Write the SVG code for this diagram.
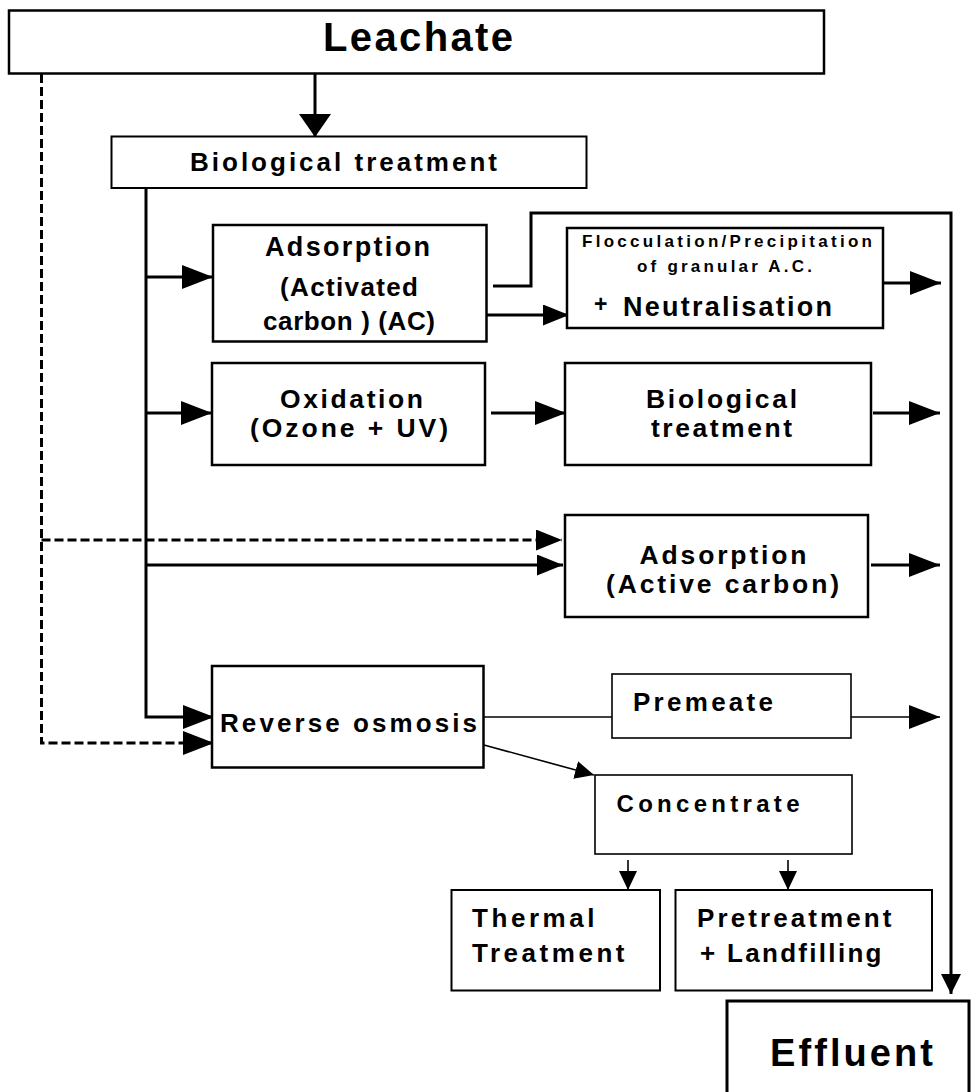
<svg xmlns="http://www.w3.org/2000/svg" width="972" height="1092" viewBox="0 0 972 1092">
<style>
.box{fill:#fff;stroke:#000;stroke-width:2.5}
.thin{fill:#fff;stroke:#000;stroke-width:1.6}
.c{fill:none;stroke:#000;stroke-width:3}
.ct{fill:none;stroke:#000;stroke-width:1.6}
.d{fill:none;stroke:#000;stroke-width:3;stroke-dasharray:9 4}
text{font-family:"Liberation Sans",Arial,sans-serif;font-weight:bold;fill:#000}
</style>
<defs>
<marker id="big" viewBox="0 0 31 24" refX="31" refY="12" markerWidth="31" markerHeight="24" markerUnits="userSpaceOnUse" orient="auto"><path d="M0,0 L31,12 L0,24 z" fill="#000"/></marker>
<marker id="mid" viewBox="0 0 26 21" refX="26" refY="10.5" markerWidth="26" markerHeight="21" markerUnits="userSpaceOnUse" orient="auto"><path d="M0,0 L26,10.5 L0,21 z" fill="#000"/></marker>
<marker id="down" viewBox="0 0 23 32" refX="23" refY="16" markerWidth="23" markerHeight="32" markerUnits="userSpaceOnUse" orient="auto"><path d="M0,0 L23,16 L0,32 z" fill="#000"/></marker>
<marker id="sm" viewBox="0 0 20 20" refX="20" refY="10" markerWidth="20" markerHeight="20" markerUnits="userSpaceOnUse" orient="auto"><path d="M0,0 L20,10 L0,20 z" fill="#000"/></marker>
<marker id="xs" viewBox="0 0 19 18" refX="19" refY="9" markerWidth="19" markerHeight="18" markerUnits="userSpaceOnUse" orient="auto"><path d="M0,0 L19,9 L0,18 z" fill="#000"/></marker>
</defs>

<g id="connectors">
<path class="c" d="M315,74 V137" marker-end="url(#down)"/>
<path class="d" d="M41.5,74 V743 H214" marker-end="url(#big)"/>
<path class="d" d="M41.5,540 H562" marker-end="url(#mid)"/>
<path class="c" d="M146,188 V717 H214" marker-end="url(#big)"/>
<path class="c" d="M146,277 H213" marker-end="url(#big)"/>
<path class="c" d="M146,413 H212" marker-end="url(#big)"/>
<path class="c" d="M146,565 H563" marker-end="url(#mid)"/>
<path class="c" d="M493,286 H531 V213 H951 V994" marker-end="url(#sm)"/>
<path class="c" d="M485,315 H569" marker-end="url(#mid)"/>
<path class="c" d="M875,283 H941" marker-end="url(#big)"/>
<path class="c" d="M491,413 H566" marker-end="url(#big)"/>
<path class="c" d="M873,413 H940" marker-end="url(#big)"/>
<path class="c" d="M871,565 H940" marker-end="url(#big)"/>
<path class="ct" d="M484,717 H612"/>
<path class="ct" d="M851,717 H940" marker-end="url(#big)"/>
<path class="ct" d="M484,745 L594,775" marker-end="url(#xs)"/>
<path class="ct" d="M628,860 V890" marker-end="url(#xs)"/>
<path class="ct" d="M788,860 V890" marker-end="url(#xs)"/>
</g>

<g id="leachate">
<rect class="box" x="9" y="10.5" width="815" height="63"/>
<text x="323" y="51" font-size="40" textLength="190" lengthAdjust="spacing">Leachate</text>
</g>
<g id="bio1">
<rect class="box" x="111.5" y="136.5" width="475" height="51.5" style="stroke-width:2"/>
<text x="190" y="170.5" font-size="26" textLength="307" lengthAdjust="spacing">Biological treatment</text>
</g>
<g id="adsorption-ac">
<rect class="box" x="213" y="225" width="273.5" height="116.5"/>
<text x="265" y="255.5" font-size="27" textLength="165" lengthAdjust="spacing">Adsorption</text>
<text x="280" y="296" font-size="26" textLength="138" lengthAdjust="spacing">(Activated</text>
<text x="263" y="330" font-size="26" textLength="172" lengthAdjust="spacing">carbon ) (AC)</text>
</g>
<g id="flocculation">
<rect class="box" x="567" y="228" width="316" height="100"/>
<text x="582" y="247" font-size="17" textLength="290" lengthAdjust="spacing">Flocculation/Precipitation</text>
<text x="637" y="272" font-size="17" textLength="175" lengthAdjust="spacing">of granular A.C.</text>
<text x="594" y="312" font-size="23">+</text>
<text x="623" y="315.5" font-size="27" textLength="209" lengthAdjust="spacing">Neutralisation</text>
</g>
<g id="oxidation">
<rect class="box" x="212" y="363" width="273" height="102"/>
<text x="280" y="407.5" font-size="26.5" textLength="143" lengthAdjust="spacing">Oxidation</text>
<text x="250" y="436.5" font-size="26.5" textLength="198" lengthAdjust="spacing">(Ozone + UV)</text>
</g>
<g id="bio2">
<rect class="box" x="565" y="363" width="306" height="102"/>
<text x="646" y="407.5" font-size="26.5" textLength="151" lengthAdjust="spacing">Biological</text>
<text x="651" y="436.5" font-size="26.5" textLength="141" lengthAdjust="spacing">treatment</text>
</g>
<g id="adsorption-active">
<rect class="box" x="565" y="515" width="303" height="102"/>
<text x="639.5" y="564" font-size="26.5" textLength="167" lengthAdjust="spacing">Adsorption</text>
<text x="606" y="593" font-size="26.5" textLength="233" lengthAdjust="spacing">(Active carbon)</text>
</g>
<g id="reverse-osmosis">
<rect class="box" x="212" y="666" width="271.5" height="101.5"/>
<text x="220" y="731.5" font-size="26" textLength="257" lengthAdjust="spacing">Reverse osmosis</text>
</g>
<g id="premeate">
<rect class="thin" x="612" y="674" width="239" height="64"/>
<text x="633" y="710.5" font-size="26" textLength="140" lengthAdjust="spacing">Premeate</text>
</g>
<g id="concentrate">
<rect class="thin" x="595" y="775" width="257" height="79"/>
<text x="616.5" y="811.5" font-size="24" textLength="183" lengthAdjust="spacing">Concentrate</text>
</g>
<g id="thermal">
<rect class="box" x="451.5" y="890" width="208.5" height="100.5" style="stroke-width:2"/>
<text x="472" y="927" font-size="26" textLength="122.5" lengthAdjust="spacing">Thermal</text>
<text x="472" y="961.5" font-size="26" textLength="152.5" lengthAdjust="spacing">Treatment</text>
</g>
<g id="pretreatment">
<rect class="box" x="675.5" y="890" width="256.5" height="100.5" style="stroke-width:2"/>
<text x="697" y="927" font-size="26" textLength="194.5" lengthAdjust="spacing">Pretreatment</text>
<text x="700" y="961.5" font-size="26" textLength="181.5" lengthAdjust="spacing">+ Landfilling</text>
</g>
<g id="effluent">
<rect class="box" x="727" y="1001" width="242" height="110" style="stroke-width:3"/>
<text x="770" y="1065.5" font-size="38" textLength="163" lengthAdjust="spacing">Effluent</text>
</g>
</svg>
